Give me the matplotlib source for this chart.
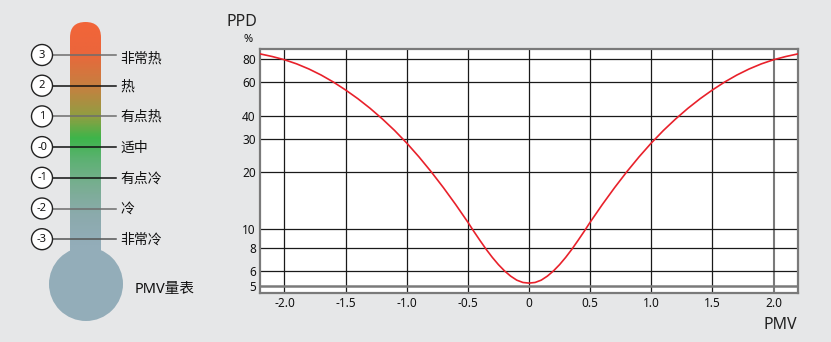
import matplotlib
matplotlib.use("Agg")
import matplotlib.pyplot as plt
from matplotlib.patches import FancyBboxPatch, Circle
from matplotlib.colors import LinearSegmentedColormap
import numpy as np

plt.rcParams['font.family'] = ['Noto Sans', 'Noto Sans CJK SC', 'DejaVu Sans']
plt.rcParams['axes.unicode_minus'] = False

# ---- data (symmetric around PMV = 0) ----
pmv_right = [0.0, 0.05, 0.1, 0.15, 0.2, 0.25, 0.3, 0.35, 0.4, 0.45, 0.5,
             0.6, 0.7, 0.8, 0.9, 1.0, 1.1, 1.2, 1.3, 1.4, 1.5, 1.6,
             1.7, 1.8, 1.9, 2.0, 2.1, 2.2]
ppd_right = [5.19, 5.23, 5.38, 5.65, 6.02, 6.50, 7.10, 7.83, 8.71, 9.72, 10.9,
             13.53, 16.61, 20.16, 24.17, 28.61, 33.38, 38.41, 43.70, 49.13, 54.62, 60.17,
             65.53, 70.54, 75.07, 78.96, 82.11, 84.81]
pmv = [-v for v in pmv_right[:0:-1]] + pmv_right
ppd = ppd_right[:0:-1] + ppd_right

x_ticks = [-2.0, -1.5, -1.0, -0.5, 0, 0.5, 1.0, 1.5, 2.0]
x_labels = ['-2.0', '-1.5', '-1.0', '-0.5', '0', '0.5', '1.0', '1.5', '2.0']
y_ticks = [5, 6, 8, 10, 20, 30, 40, 60, 80]
y_labels = ['5', '6', '8', '10', '20', '30', '40', '60', '80']

scale_nums = ['3', '2', '1', '-0', '-1', '-2', '-3']
scale_names = ['非常热', '热', '有点热', '适中', '有点冷', '冷', '非常冷']

bg = '#E6E7E8'
fig = plt.figure(figsize=(8.31, 3.42), dpi=100)
fig.patch.set_facecolor(bg)

# ---- thermometer (pixel coordinates) ----
ax0 = fig.add_axes([0, 0, 1, 1])
ax0.set_xlim(0, 831)
ax0.set_ylim(342, 0)
ax0.axis('off')

stops = [(22, '#F26539'), (50, '#EC653B'), (87, '#C58140'), (117, '#8E9F42'),
         (138, '#3DB54A'), (160, '#5DB173'), (185, '#78AE91'), (215, '#8BAAAC'),
         (245, '#93ADB9'), (290, '#93ADB9')]
cmap = LinearSegmentedColormap.from_list(
    'thermo', [((y - 22) / 268, c) for y, c in stops])
grad = np.linspace(0, 1, 300).reshape(-1, 1)
tube = FancyBboxPatch((70, 22), 31, 268, boxstyle='round,pad=0,rounding_size=15.5',
                      fc='none', ec='none')
ax0.add_patch(tube)
im = ax0.imshow(grad, cmap=cmap, extent=(70, 101, 290, 22), aspect='auto', zorder=1)
im.set_clip_path(tube)
ax0.add_patch(Circle((86, 284), 37, fc='#93ADB9', ec='none', zorder=2))

line_cols = ['#6d6d6d', '#111111', '#6d6d6d', '#111111', '#111111', '#6d6d6d', '#555555']
for i, (num, name) in enumerate(zip(scale_nums, scale_names)):
    yy = 55 + i * 30.7
    ax0.plot([53, 116], [yy, yy], color=line_cols[i], lw=1.1, zorder=3)
    ax0.add_patch(Circle((42, yy), 10.5, fc='white', ec='#222222', lw=1.0, zorder=4))
    ax0.text(42, yy, num, ha='center', va='center', fontsize=8, color='#111', zorder=5)
    dy = 4 if i == 0 else 1
    ax0.text(120, yy + dy, name, ha='left', va='center', fontsize=10, color='#111')

ax0.text(135, 290, 'PMV量表', ha='left', va='center', fontsize=10.5, color='#111')
ax0.text(227, 22, 'PPD', ha='left', va='center', fontsize=11.5, color='#222')
ax0.text(248, 39, '%', ha='center', va='center', fontsize=8, color='#111')
ax0.text(797, 325, 'PMV', ha='right', va='center', fontsize=11.5, color='#222')

# ---- PPD chart ----
ax = fig.add_axes([260 / 831, 1 - 293 / 342, (798 - 260) / 831, (293 - 49) / 342])
ax.set_facecolor('white')
ax.set_yscale('log')
ax.plot(pmv, ppd, color='#E8212B', lw=1.2, zorder=3)
ax.set_xlim(-2.2, 2.2)
ax.set_ylim(4.6, 90)
ax.set_xticks(x_ticks)
ax.set_xticklabels(x_labels)
ax.set_yticks(y_ticks)
ax.set_yticklabels(y_labels)
ax.minorticks_off()
ax.tick_params(length=0, labelsize=8.5, colors='#111', pad=3)
ax.grid(True, color='#1a1a1a', lw=0.9)
ax.get_ygridlines()[0].set_color('#7a7a7a')
ax.get_ygridlines()[0].set_linewidth(1.8)
ax.get_xgridlines()[-1].set_color('#7a7a7a')
ax.get_xgridlines()[-1].set_linewidth(1.5)
for s in ax.spines.values():
    s.set_color('#7a7a7a')
    s.set_linewidth(1.6)

fig.savefig('out.png', dpi=100, facecolor=bg)
